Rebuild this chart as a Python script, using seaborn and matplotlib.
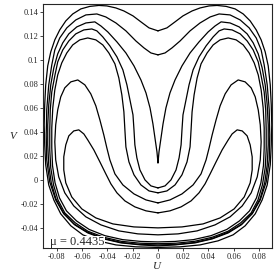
import matplotlib
matplotlib.use('Agg')
import matplotlib.pyplot as plt
import seaborn as sns
import pandas as pd

# 오른쪽 절반 (U >= 0) 궤적, U=0 축에 대해 대칭
# 위쪽 홈(notch)의 중심에서 시작해 바깥쪽을 돌아 아래 중심까지
a_u = [0, 0.0071, 0.0135, 0.0198, 0.0270, 0.0333, 0.0405, 0.0468, 0.0540, 0.0611,
       0.0675, 0.0730, 0.0778, 0.0817, 0.0849, 0.0873, 0.0889, 0.0897, 0.0901, 0.0897,
       0.0889, 0.0865, 0.0825, 0.0770, 0.0690, 0.0595, 0.0476, 0.0333, 0.0175, 0]
a_v = [0.1242, 0.1267, 0.1317, 0.1367, 0.1408, 0.1433, 0.1450, 0.1454, 0.1446, 0.1425,
       0.1383, 0.1325, 0.1250, 0.1167, 0.1067, 0.0950, 0.0792, 0.0625, 0.0458, 0.0292,
       0.0125, -0.0042, -0.0167, -0.0283, -0.0383, -0.0458, -0.0508, -0.0542, -0.0558, -0.0563]

b_u = [0, 0.0056, 0.0111, 0.0175, 0.0254, 0.0333, 0.0413, 0.0484, 0.0571, 0.0651,
       0.0722, 0.0778, 0.0817, 0.0841, 0.0865, 0.0881, 0.0885, 0.0881, 0.0857, 0.0810,
       0.0746, 0.0659, 0.0556, 0.0429, 0.0294, 0.0135, 0]
b_v = [0.1042, 0.1058, 0.1100, 0.1158, 0.1242, 0.1308, 0.1358, 0.1383, 0.1375, 0.1333,
       0.1267, 0.1183, 0.1083, 0.0958, 0.0792, 0.0583, 0.0375, 0.0167, -0.0017, -0.0167,
       -0.0283, -0.0375, -0.0442, -0.0492, -0.0525, -0.0542, -0.0550]

c_u = [0, 0.0008, 0.0024, 0.0040, 0.0063, 0.0095, 0.0135, 0.0190, 0.0254, 0.0325,
       0.0397, 0.0452, 0.0500, 0.0571, 0.0643, 0.0706, 0.0754, 0.0794, 0.0825, 0.0849,
       0.0865, 0.0873, 0.0873, 0.0865, 0.0845, 0.0808, 0.0748, 0.0665, 0.0558, 0.0430,
       0.0288, 0.0145, 0]
c_v = [0.0142, 0.0233, 0.0350, 0.0467, 0.0600, 0.0725, 0.0833, 0.0950, 0.1058, 0.1150,
       0.1233, 0.1283, 0.1317, 0.1308, 0.1275, 0.1217, 0.1142, 0.1050, 0.0933, 0.0792,
       0.0625, 0.0458, 0.0292, 0.0125, -0.0025, -0.0158, -0.0275, -0.0367, -0.0435, -0.0488,
       -0.0522, -0.0538, -0.0542]

d_u = [0, 0.0056, 0.0103, 0.0143, 0.0167, 0.0183, 0.0190, 0.0198, 0.0222, 0.0246,
       0.0278, 0.0325, 0.0381, 0.0437, 0.0484, 0.0524, 0.0587, 0.0651, 0.0706, 0.0754,
       0.0794, 0.0817, 0.0841, 0.0853, 0.0857, 0.0857, 0.0849, 0.0827, 0.0792, 0.0738,
       0.0655, 0.0555, 0.0430, 0.0290, 0.0140, 0]
d_v = [-0.0067, -0.0050, 0, 0.0083, 0.0183, 0.0292, 0.0417, 0.0542, 0.0667, 0.0792,
       0.0917, 0.1025, 0.1117, 0.1192, 0.1242, 0.1258, 0.1250, 0.1217, 0.1158, 0.1083,
       0.0983, 0.0867, 0.0733, 0.0583, 0.0417, 0.0250, 0.0100, -0.0042, -0.0167, -0.0275,
       -0.0358, -0.0428, -0.0478, -0.0512, -0.0528, -0.0532]

e_u = [0, 0.0071, 0.0135, 0.0190, 0.0230, 0.0254, 0.0262, 0.0270, 0.0286, 0.0310,
       0.0341, 0.0389, 0.0437, 0.0492, 0.0556, 0.0619, 0.0675, 0.0722, 0.0762, 0.0794,
       0.0817, 0.0833, 0.0841, 0.0841, 0.0835, 0.0815, 0.0780, 0.0725, 0.0645, 0.0545,
       0.0420, 0.0280, 0.0135, 0]
e_v = [-0.0108, -0.0092, -0.0042, 0.0042, 0.0150, 0.0275, 0.0417, 0.0567, 0.0708, 0.0850,
       0.0967, 0.1058, 0.1125, 0.1167, 0.1183, 0.1167, 0.1125, 0.1058, 0.0975, 0.0875,
       0.0750, 0.0600, 0.0433, 0.0267, 0.0117, -0.0025, -0.0150, -0.0258, -0.0342, -0.0413,
       -0.0465, -0.0498, -0.0513, -0.0517]

f_u = [0, 0.0095, 0.0190, 0.0278, 0.0341, 0.0381, 0.0405, 0.0429, 0.0460, 0.0492,
       0.0532, 0.0579, 0.0635, 0.0690, 0.0738, 0.0770, 0.0794, 0.0810, 0.0817, 0.0810,
       0.0786, 0.0738, 0.0667, 0.0571, 0.0452, 0.0310, 0.0159, 0]
f_v = [-0.0192, -0.0167, -0.0117, -0.0042, 0.0050, 0.0167, 0.0267, 0.0375, 0.0500, 0.0617,
       0.0717, 0.0792, 0.0833, 0.0817, 0.0767, 0.0692, 0.0583, 0.0458, 0.0317, 0.0167,
       0.0025, -0.0108, -0.0217, -0.0308, -0.0375, -0.0425, -0.0450, -0.0458]

g_u = [0, 0.0095, 0.0183, 0.0262, 0.0325, 0.0373, 0.0413, 0.0460, 0.0508, 0.0556,
       0.0587, 0.0627, 0.0667, 0.0706, 0.0730, 0.0746, 0.0746, 0.0730, 0.0683, 0.0603,
       0.0492, 0.0357, 0.0190, 0]
g_v = [-0.0275, -0.0258, -0.0225, -0.0175, -0.0108, -0.0033, 0.0050, 0.0150, 0.0250, 0.0333,
       0.0383, 0.0417, 0.0408, 0.0367, 0.0292, 0.0192, 0.0083, -0.0025, -0.0142, -0.0242,
       -0.0317, -0.0367, -0.0392, -0.0400]

x_ticks = [-0.08, -0.06, -0.04, -0.02, 0, 0.02, 0.04, 0.06, 0.08]
x_labels = ['-0.08', '-0.06', '-0.04', '-0.02', '0', '0.02', '0.04', '0.06', '0.08']
y_ticks = [-0.04, -0.02, 0, 0.02, 0.04, 0.06, 0.08, 0.1, 0.12, 0.14]
y_labels = ['-0.04', '-0.02', '0', '0.02', '0.04', '0.06', '0.08', '0.1', '0.12', '0.14']
mu = 0.4435

halves = {'A': (a_u, a_v), 'B': (b_u, b_v), 'C': (c_u, c_v), 'D': (d_u, d_v),
          'E': (e_u, e_v), 'F': (f_u, f_v), 'G': (g_u, g_v)}

# 대칭으로 왼쪽 절반을 붙여서 닫힌 곡선 만들기
rows = []
for name, (hu, hv) in halves.items():
    uu = list(hu) + [-u for u in reversed(hu)]
    vv = list(hv) + list(reversed(hv))
    for u, v in zip(uu, vv):
        rows.append({'curve': name, 'U': u, 'V': v})
df = pd.DataFrame(rows)

sns.set_style('ticks')
plt.rcParams['font.family'] = ['Liberation Serif', 'DejaVu Serif']

fig = plt.figure(figsize=(2.77, 2.77), dpi=100)
ax = fig.add_axes([0.155, 0.105, 0.827, 0.881])

sns.lineplot(data=df, x='U', y='V', units='curve', estimator=None, sort=False,
             color='black', lw=0.9, ax=ax)

ax.set_xlim(-0.0911, 0.0903)
ax.set_ylim(-0.0567, 0.1467)
ax.set_xticks(x_ticks)
ax.set_xticklabels(x_labels)
ax.set_yticks(y_ticks)
ax.set_yticklabels(y_labels)
ax.tick_params(direction='out', length=2.5, width=0.6, pad=1, labelsize=6)
for sp in ax.spines.values():
    sp.set_linewidth(0.8)
    sp.set_visible(True)

ax.set_xlabel('U', fontsize=8, style='italic', labelpad=1)
ax.set_ylabel('V', fontsize=8, style='italic', rotation=0)
ax.yaxis.set_label_coords(-0.13, 0.44)

# 라벨은 선 위에 그리기
ax.text(0.03, 0.012, 'μ = ' + str(mu), transform=ax.transAxes,
        fontsize=9, ha='left', va='baseline', zorder=10,
        bbox=dict(facecolor='white', edgecolor='none', pad=0.3))

fig.savefig('out.png', dpi=100)
